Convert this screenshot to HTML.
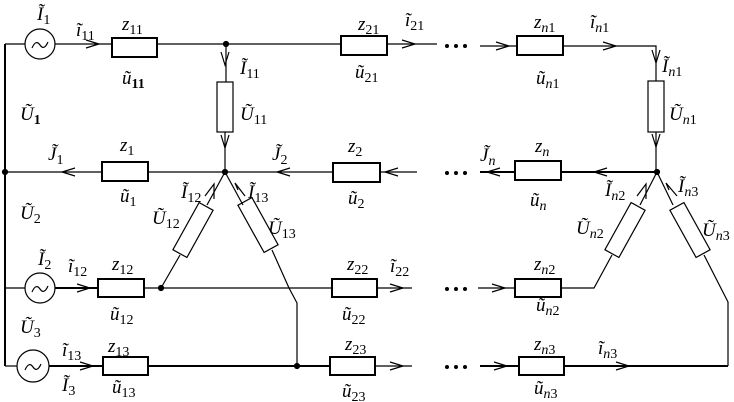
<!DOCTYPE html>
<html><head><meta charset="utf-8"><style>
html,body{margin:0;padding:0;background:#fff;width:734px;height:402px;overflow:hidden}
text{font-family:"Liberation Serif",serif;font-style:italic;font-size:19px;fill:#000}
tspan.s{font-size:14px;font-style:normal}
tspan.n{font-style:italic}
</style></head><body>
<svg width="734" height="402" viewBox="0 0 734 402" xmlns="http://www.w3.org/2000/svg" fill="none" stroke="#000" stroke-width="1.2">
<line x1="5" y1="44" x2="5" y2="366" stroke-width="2"/>
<line x1="5" y1="44" x2="25" y2="44"/><circle cx="40" cy="44" r="15"/><path d="M32 48 q4 -9 8 -3 q4 6 8 -3"/>
<line x1="55" y1="44" x2="112" y2="44"/><rect x="112" y="38" width="45" height="19" stroke-width="2"/>
<line x1="157" y1="44" x2="341" y2="44"/><rect x="341" y="36" width="46" height="19" stroke-width="2"/>
<line x1="387" y1="44" x2="437" y2="44"/>
<line x1="480" y1="46" x2="517" y2="46"/><rect x="517" y="36" width="46" height="19" stroke-width="2"/>
<polyline points="563,46 656,46 656,81"/>
<rect x="648" y="81" width="16" height="51"/><line x1="656" y1="132" x2="656" y2="172"/>
<polyline points="86,40 99,44 86,48"/><polyline points="402,40 415,44 402,48"/><polyline points="496,42 509,46 496,50"/><polyline points="603,42 616,46 603,50"/>
<polyline points="652,50 656,63 660,50"/><polyline points="652,134 656,147 660,134"/>
<circle cx="226" cy="44" r="2.5" fill="#000"/>
<line x1="226" y1="44" x2="226" y2="82"/><rect x="217" y="82" width="16" height="50"/><line x1="225" y1="132" x2="225" y2="172"/>
<polyline points="221,52 225,65 229,52"/><polyline points="221,135 225,148 229,135"/>
<line x1="5" y1="172" x2="102" y2="172"/><rect x="102" y="162" width="46" height="19" stroke-width="2"/>
<line x1="148" y1="172" x2="333" y2="172"/><rect x="333" y="163" width="47" height="19" stroke-width="2"/>
<line x1="380" y1="172" x2="417" y2="172"/>
<line x1="480" y1="172" x2="515" y2="172" stroke-width="2"/><rect x="515" y="161" width="46" height="19" stroke-width="2"/>
<line x1="561" y1="172" x2="657" y2="172" stroke-width="2"/>
<polyline points="75,168 62,172 75,176"/><polyline points="290,168 277,172 290,176"/><polyline points="398,168 385,172 398,176"/><polyline points="500,168 487,172 500,176"/><polyline points="607,168 594,172 607,176"/>
<circle cx="5" cy="172" r="2.5" fill="#000"/><circle cx="225" cy="172" r="2.5" fill="#000"/><circle cx="657" cy="172" r="2.5" fill="#000"/>
<line x1="225" y1="172" x2="207" y2="205"/>
<g transform="translate(193,230) rotate(29)"><rect x="-8" y="-27" width="16" height="54"/></g>
<polyline points="180,255 161,288"/>
<polyline points="225,172 243,205"/>
<g transform="translate(258,225) rotate(-29)"><rect x="-8" y="-27" width="16" height="54"/></g>
<polyline points="272,250 289,288 297,303 297,366"/>
<polyline points="205,196 214,184 214,199"/><polyline points="238,190 235,183 245,196"/>
<line x1="657" y1="172" x2="640" y2="205"/>
<g transform="translate(625,230) rotate(29)"><rect x="-8" y="-27" width="16" height="54"/></g>
<polyline points="612,255 594,288 561,288"/>
<line x1="657" y1="172" x2="673" y2="205"/>
<g transform="translate(690,230) rotate(-29)"><rect x="-8" y="-27" width="16" height="54"/></g>
<polyline points="704,255 728,302 728,366"/>
<polyline points="637,196 646,184 646,199"/><polyline points="669,190 666,183 677,196"/>
<line x1="5" y1="288" x2="25" y2="288"/><circle cx="40" cy="288" r="15"/><path d="M32 292 q4 -9 8 -3 q4 6 8 -3"/>
<line x1="55" y1="288" x2="98" y2="288" stroke-width="2"/><polyline points="77,284 90,288 77,292"/>
<rect x="98" y="279" width="46" height="18" stroke-width="2"/>
<line x1="144" y1="288" x2="332" y2="288"/><circle cx="161" cy="288" r="2.5" fill="#000"/>
<rect x="332" y="279" width="45" height="18" stroke-width="2"/><line x1="377" y1="288" x2="412" y2="288"/>
<line x1="478" y1="288" x2="515" y2="288"/><polyline points="492,284 505,288 492,292"/>
<rect x="515" y="279" width="46" height="18" stroke-width="2"/>
<line x1="5" y1="366" x2="17" y2="366"/><circle cx="33" cy="366" r="16"/><path d="M25 370 q4 -9 8 -3 q4 6 8 -3"/>
<line x1="49" y1="366" x2="103" y2="366" stroke-width="2"/><polyline points="80,362 93,366 80,370"/>
<rect x="103" y="357" width="45" height="18" stroke-width="2"/>
<line x1="148" y1="366" x2="330" y2="366" stroke-width="2"/><circle cx="297" cy="366" r="2.5" fill="#000"/>
<rect x="330" y="357" width="45" height="18" stroke-width="2"/><line x1="375" y1="366" x2="412" y2="366"/>
<line x1="480" y1="366" x2="519" y2="366" stroke-width="2"/><polyline points="494,362 507,366 494,370"/>
<rect x="519" y="357" width="45" height="18" stroke-width="2"/>
<line x1="564" y1="366" x2="728" y2="366" stroke-width="2"/><polyline points="616,362 629,366 616,370"/>
<polyline points="390,284 403,288 390,292"/><polyline points="390,362 403,366 390,370"/>
<g fill="#000" stroke="none">
<circle cx="447" cy="46" r="2"/><circle cx="456" cy="46" r="2"/><circle cx="465" cy="46" r="2"/>
<circle cx="447" cy="173" r="2"/><circle cx="456" cy="173" r="2"/><circle cx="465" cy="173" r="2"/>
<circle cx="447" cy="289" r="2"/><circle cx="456" cy="289" r="2"/><circle cx="465" cy="289" r="2"/>
<circle cx="447" cy="367" r="2"/><circle cx="456" cy="367" r="2"/><circle cx="465" cy="367" r="2"/>
</g>
<g stroke="none">
<text x="37" y="20">Ĩ<tspan class="s" dy="4">1</tspan></text>
<text x="76" y="36">ĩ<tspan class="s" dy="4">11</tspan></text>
<text x="122" y="30">z<tspan class="s" dy="4">11</tspan></text>
<text x="122" y="84">ũ<tspan class="s" dy="4" font-weight="bold">11</tspan></text>
<text x="240" y="74">Ĩ<tspan class="s" dy="4">11</tspan></text>
<text x="240" y="120">Ũ<tspan class="s" dy="4">11</tspan></text>
<text x="20" y="120">Ũ<tspan class="s" dy="4" font-weight="bold">1</tspan></text>
<text x="120" y="151">z<tspan class="s" dy="4">1</tspan></text>
<text x="48" y="160">J̃<tspan class="s" dy="4">1</tspan></text>
<text x="120" y="202">ũ<tspan class="s" dy="4">1</tspan></text>
<text x="272" y="160">J̃<tspan class="s" dy="4">2</tspan></text>
<text x="348" y="152">z<tspan class="s" dy="4">2</tspan></text>
<text x="348" y="204">ũ<tspan class="s" dy="4">2</tspan></text>
<text x="181" y="198">Ĩ<tspan class="s" dy="4">12</tspan></text>
<text x="248" y="198">Ĩ<tspan class="s" dy="4">13</tspan></text>
<text x="152" y="224">Ũ<tspan class="s" dy="4">12</tspan></text>
<text x="268" y="234">Ũ<tspan class="s" dy="4">13</tspan></text>
<text x="20" y="219">Ũ<tspan class="s" dy="4">2</tspan></text>
<text x="38" y="265">Ĩ<tspan class="s" dy="4">2</tspan></text>
<text x="68" y="272">ĩ<tspan class="s" dy="4">12</tspan></text>
<text x="112" y="270">z<tspan class="s" dy="4">12</tspan></text>
<text x="110" y="320">ũ<tspan class="s" dy="4">12</tspan></text>
<text x="20" y="333">Ũ<tspan class="s" dy="4">3</tspan></text>
<text x="62" y="356">ĩ<tspan class="s" dy="4">13</tspan></text>
<text x="108" y="352">z<tspan class="s" dy="4">13</tspan></text>
<text x="62" y="391">Ĩ<tspan class="s" dy="4">3</tspan></text>
<text x="112" y="393">ũ<tspan class="s" dy="4">13</tspan></text>
<text x="358" y="30">z<tspan class="s" dy="4">21</tspan></text>
<text x="405" y="26">ĩ<tspan class="s" dy="4">21</tspan></text>
<text x="355" y="78">ũ<tspan class="s" dy="4">21</tspan></text>
<text x="534" y="28">z<tspan class="s n" dy="4">n</tspan><tspan class="s">1</tspan></text>
<text x="590" y="28">ĩ<tspan class="s n" dy="4">n</tspan><tspan class="s">1</tspan></text>
<text x="536" y="84">ũ<tspan class="s n" dy="4">n</tspan><tspan class="s">1</tspan></text>
<text x="662" y="72">Ĩ<tspan class="s n" dy="4">n</tspan><tspan class="s">1</tspan></text>
<text x="669" y="120">Ũ<tspan class="s n" dy="4">n</tspan><tspan class="s">1</tspan></text>
<text x="480" y="161">J̃<tspan class="s n" dy="4">n</tspan></text>
<text x="535" y="152">z<tspan class="s n" dy="4">n</tspan></text>
<text x="530" y="206">ũ<tspan class="s n" dy="4">n</tspan></text>
<text x="605" y="196">Ĩ<tspan class="s n" dy="4">n</tspan><tspan class="s">2</tspan></text>
<text x="678" y="192">Ĩ<tspan class="s n" dy="4">n</tspan><tspan class="s">3</tspan></text>
<text x="576" y="234">Ũ<tspan class="s n" dy="4">n</tspan><tspan class="s">2</tspan></text>
<text x="702" y="236">Ũ<tspan class="s n" dy="4">n</tspan><tspan class="s">3</tspan></text>
<text x="347" y="270">z<tspan class="s" dy="4">22</tspan></text>
<text x="390" y="272">ĩ<tspan class="s" dy="4">22</tspan></text>
<text x="342" y="320">ũ<tspan class="s" dy="4">22</tspan></text>
<text x="534" y="270">z<tspan class="s n" dy="4">n</tspan><tspan class="s">2</tspan></text>
<text x="536" y="311">ũ<tspan class="s n" dy="4">n</tspan><tspan class="s">2</tspan></text>
<text x="345" y="350">z<tspan class="s" dy="4">23</tspan></text>
<text x="342" y="397">ũ<tspan class="s" dy="4">23</tspan></text>
<text x="534" y="350">z<tspan class="s n" dy="4">n</tspan><tspan class="s">3</tspan></text>
<text x="598" y="354">ĩ<tspan class="s n" dy="4">n</tspan><tspan class="s">3</tspan></text>
<text x="534" y="394">ũ<tspan class="s n" dy="4">n</tspan><tspan class="s">3</tspan></text>
</g>
</svg>
</body></html>
